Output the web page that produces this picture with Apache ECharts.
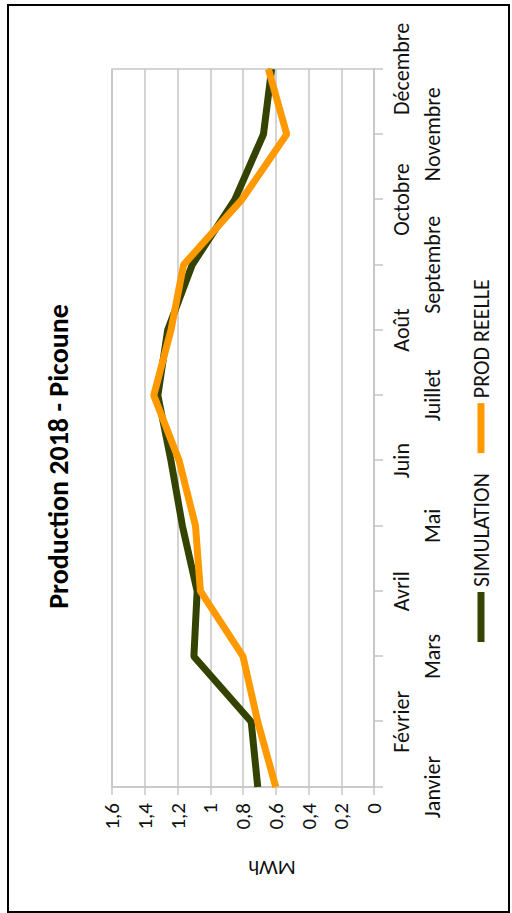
<!DOCTYPE html>
<html>
<head>
<meta charset="utf-8">
<script src="https://cdn.jsdelivr.net/npm/echarts@6/dist/echarts.min.js"></script>
<style>
  html, body { margin: 0; padding: 0; background: #fff; }
  #wrap { position: relative; width: 512px; height: 913px; overflow: hidden; background: #fff; }
  #chart { position: absolute; left: 0; top: 0; width: 913px; height: 512px;
           transform-origin: 0 0; transform: translateY(913px) rotate(-90deg); }
</style>
</head>
<body>
<div id="wrap"><div id="chart"></div></div>
<script>
const categories = ['Janvier', 'Février', 'Mars', 'Avril', 'Mai', 'Juin', 'Juillet', 'Août', 'Septembre', 'Octobre', 'Novembre', 'Décembre'];
const simulation = [0.71, 0.75, 1.10, 1.08, 1.17, 1.24, 1.32, 1.26, 1.11, 0.85, 0.675, 0.625];
const prodReelle = [0.60, 0.71, 0.80, 1.06, 1.09, 1.19, 1.345, 1.24, 1.163, 0.807, 0.533, 0.645];
const valueTickLabels = ['0', '0,2', '0,4', '0,6', '0,8', '1', '1,2', '1,4', '1,6'];
const seriesNames = ['SIMULATION', 'PROD REELLE'];
const titleText = 'Production 2018 - Picoune';
const unitName = 'MWh';

const FONT = 'Carlito, Lato, sans-serif';
const GRID_C = '#c6c6c6';
const TEXT_C = '#111';

const chart = echarts.init(document.getElementById('chart'), null, { renderer: 'svg', width: 913, height: 512 });
chart.setOption({
  animation: false,
  backgroundColor: '#fff',
  title: {
    text: titleText,
    left: 'center',
    top: 44,
    padding: [0, 0, 0, 13],
    textStyle: { fontFamily: FONT, fontSize: 28, fontWeight: 'bold', color: '#000' }
  },
  legend: {
    left: 271,
    top: 470,
    padding: 0,
    itemWidth: 50,
    itemHeight: 7,
    itemGap: 20,
    icon: 'rect',
    data: seriesNames,
    textStyle: { fontFamily: FONT, fontSize: 22, color: TEXT_C }
  },
  graphic: [{
    type: 'rect',
    shape: { x: 1, y: 8, width: 907, height: 501 },
    style: { fill: 'none', stroke: '#000', lineWidth: 2 },
    silent: true
  }],
  grid: {
    left: 126, right: 69, top: 112, bottom: 138,
    show: true, borderColor: GRID_C, borderWidth: 1.5, backgroundColor: 'transparent'
  },
  xAxis: {
    type: 'category',
    data: categories,
    boundaryGap: false,
    axisLine: { show: true, lineStyle: { color: GRID_C, width: 1.5 } },
    axisTick: { show: true, length: 9, lineStyle: { color: GRID_C, width: 1.5 } },
    splitLine: { show: false },
    axisLabel: {
      interval: 0,
      margin: 12,
      fontFamily: FONT,
      fontSize: 22,
      lineHeight: 31,
      color: TEXT_C,
      formatter: function (v, i) { return i % 2 === 0 ? '\n' + v : v; }
    }
  },
  yAxis: {
    type: 'value',
    min: 0, max: 1.6, interval: 0.2,
    name: unitName,
    nameLocation: 'middle',
    nameRotate: 90,
    nameGap: 70,
    nameTextStyle: { fontFamily: FONT, fontSize: 21, color: TEXT_C, padding: [0, 58, 0, 0] },
    axisLine: { show: true, lineStyle: { color: GRID_C, width: 1.5 } },
    axisTick: { show: true, length: 8, lineStyle: { color: GRID_C, width: 1.5 } },
    splitLine: { show: true, lineStyle: { color: GRID_C, width: 1.5 } },
    axisLabel: {
      margin: 16,
      fontFamily: FONT,
      fontSize: 21,
      color: TEXT_C,
      formatter: function (v) { return valueTickLabels[Math.round(v * 5)]; }
    }
  },
  series: [
    {
      name: seriesNames[0], type: 'line', data: simulation,
      symbol: 'none', color: '#344300',
      lineStyle: { width: 7, color: '#344300' }
    },
    {
      name: seriesNames[1], type: 'line', data: prodReelle,
      symbol: 'none', color: '#FF9900',
      lineStyle: { width: 7, color: '#FF9900' }
    }
  ]
});
</script>
</body>
</html>
